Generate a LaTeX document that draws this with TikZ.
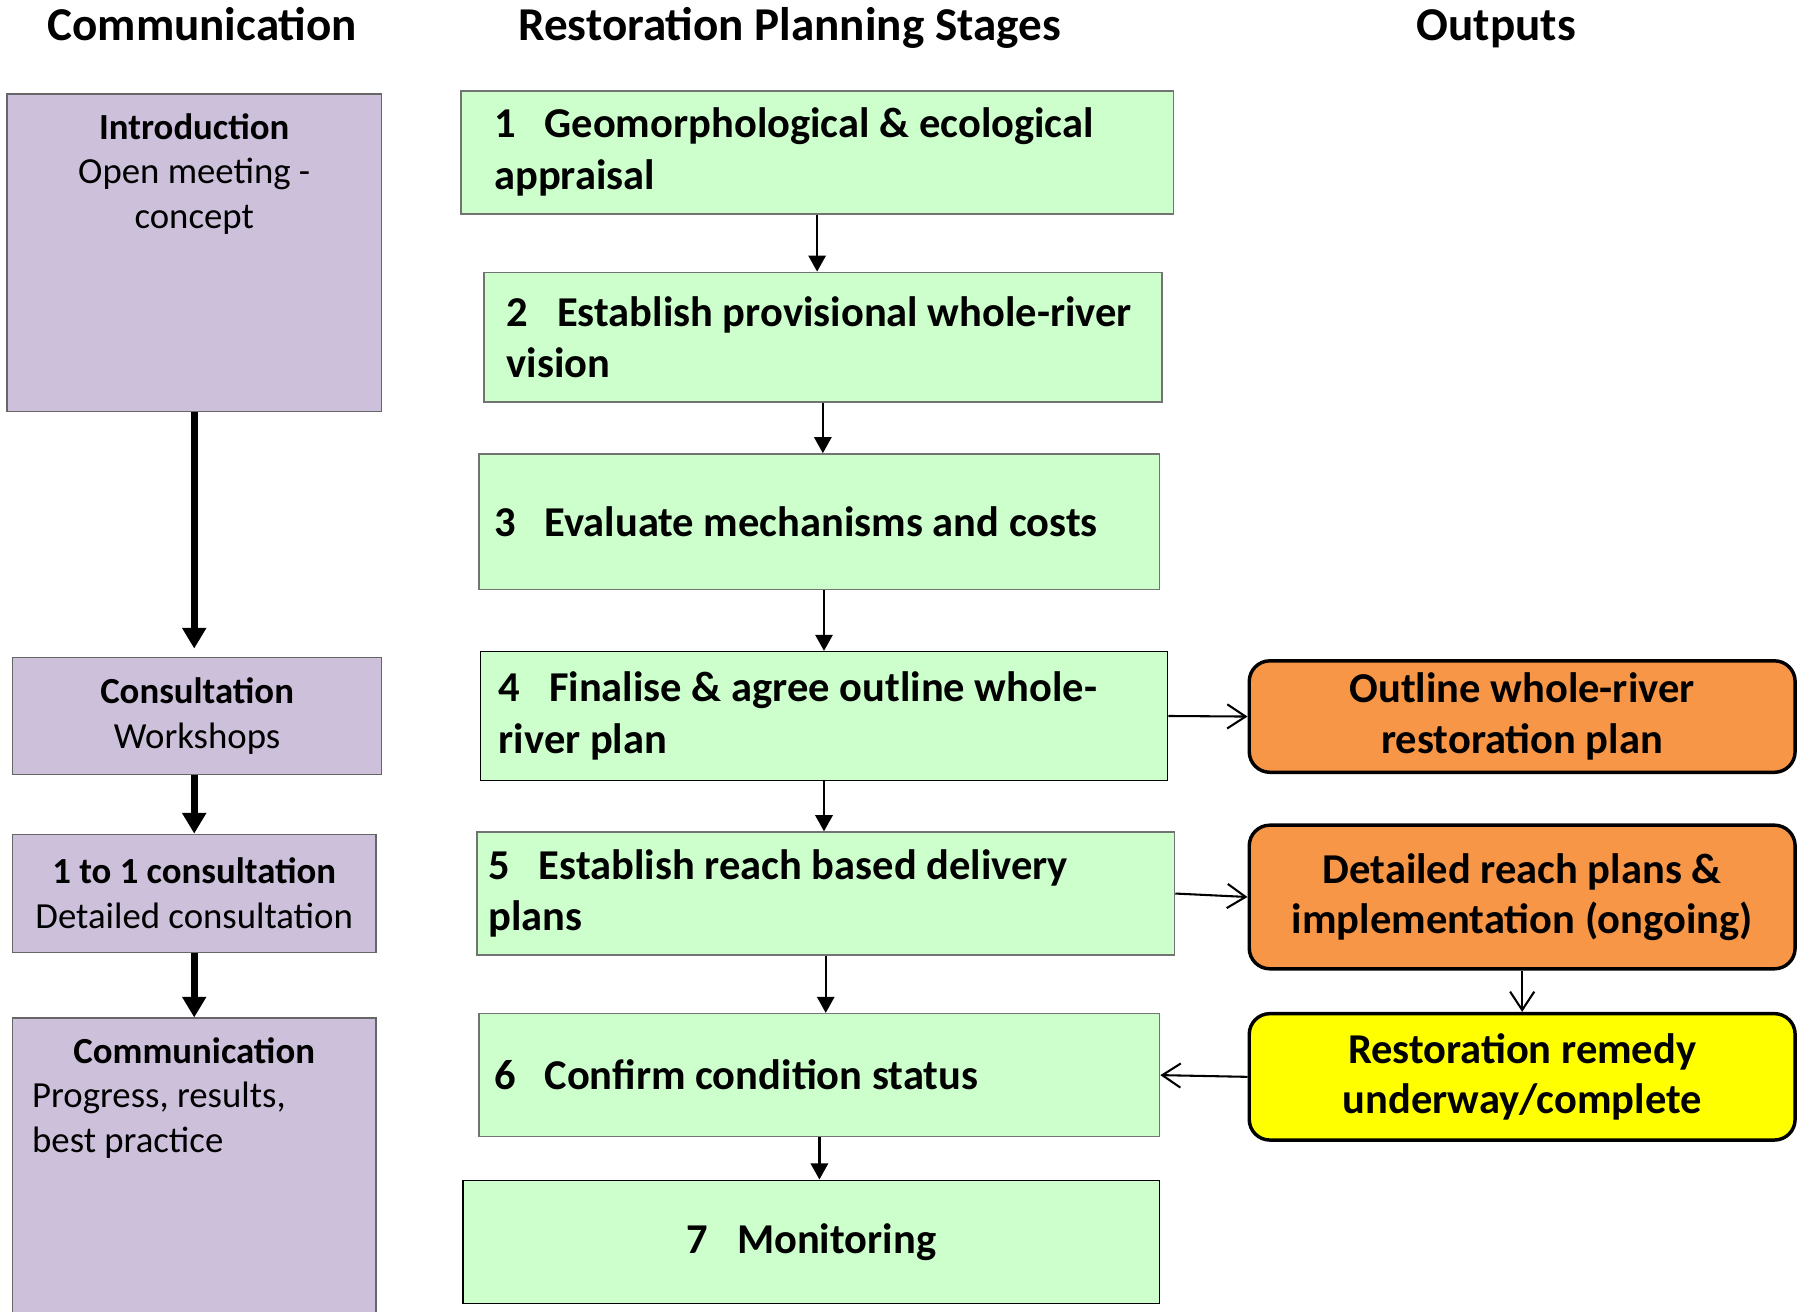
\documentclass[tikz,border=0pt]{standalone}
\usepackage{fontspec}
\setmainfont{Carlito}
\usetikzlibrary{arrows.meta,positioning}

\definecolor{commpurple}{HTML}{CCC0DA}
\definecolor{stagegreen}{HTML}{CCFFCC}
\definecolor{outorange}{HTML}{F79646}
\definecolor{outyellow}{HTML}{FFFF00}

\tikzstyle{heading} = [font=\fontsize{41}{49}\selectfont\bfseries, anchor=base]
\tikzstyle{commbox} = [rectangle, draw=black!60, line width=1.3pt, fill=commpurple]
\tikzstyle{commtext} = [font=\fontsize{32}{39}\selectfont, align=flush center, inner sep=0pt]
\tikzstyle{stagebox} = [rectangle, draw=black!55, line width=1.3pt, fill=stagegreen, font=\fontsize{37}{45}\selectfont\bfseries, align=flush left, inner ysep=0pt]
\tikzstyle{outbox} = [rectangle, rounded corners=18pt, draw=black, line width=3pt, minimum width=475pt, font=\fontsize{37}{44}\selectfont\bfseries, align=flush center]
\tikzstyle{commarrow} = [line width=6pt, -{Triangle[length=18pt,width=20pt]}]
\tikzstyle{stagearrow} = [line width=2pt, -{Triangle[length=14pt,width=15pt]}]
\tikzstyle{outarrow} = [line width=1.8pt, -{Straight Barb[length=16pt,width=21pt]}]

\begin{document}
\begin{tikzpicture}[x=1pt, y=-1pt]
\useasboundingbox (0,0) rectangle (1568,1141);

% column headings
\node (hcomm) [heading] at (176,35) {Communication};
\node (hstage) [heading] at (687,35) {Restoration Planning Stages};
\node (hout) [heading] at (1302,35) {Outputs};

% communication column
\node (intro) [commbox, minimum width=326pt, minimum height=276pt] at (169,220) {};
\node (introtext) [commtext, below=17pt of intro.north] {\textbf{Introduction}\\Open meeting -\\concept};
\node (consult) [commbox, commtext, minimum width=321pt, minimum height=102pt] at (171.5,623) {\textbf{Consultation}\\Workshops};
\node (onetoone) [commbox, commtext, minimum width=316pt, minimum height=103pt] at (169,777.5) {\textbf{1 to 1 consultation}\\Detailed consultation};
\node (commun) [commbox, minimum width=316pt, minimum height=280pt] at (169,1026) {};
\node (communtext) [commtext, text width=282pt, align=flush left, below=17pt of commun.north] {\makebox[\linewidth]{\textbf{Communication}}\\Progress, results,\\best practice};

% planning stages
\node (s1) [stagebox, minimum height=107pt, inner xsep=29pt, text width=562pt] at (711,132.5) {1~~~Geomorphological \& ecological\\appraisal};
\node (s2) [stagebox, minimum height=113pt, inner xsep=20pt, text width=550pt] at (716,293.5) {2~~~Establish provisional whole-river\\vision};
\node (s3) [stagebox, minimum height=118pt, inner xsep=13pt, text width=566pt] at (713,454) {3~~~Evaluate mechanisms and costs};
\node (s4) [stagebox, draw=black, minimum height=112pt, inner xsep=16pt, text width=566pt] at (717,623) {4~~~Finalise \& agree outline whole-\\river plan};
\node (s5) [stagebox, minimum height=107pt, inner xsep=10pt, text width=587pt] at (718.5,777.5) {5~~~Establish reach based delivery\\plans};
\node (s6) [stagebox, minimum height=107pt, inner xsep=13pt, text width=566pt] at (713,935.5) {6~~~Confirm condition status};
\node (s7) [stagebox, draw=black, align=flush center, minimum height=107pt, inner xsep=0pt, text width=606pt] at (706,1080.5) {7~~~Monitoring};

% outputs
\node (o1) [outbox, fill=outorange, minimum height=97pt] at (1324.5,623.5) {Outline whole-river\\restoration plan};
\node (o2) [outbox, fill=outorange, minimum height=125pt] at (1324.5,780.5) {Detailed reach plans \&\\implementation (ongoing)};
\node (o3) [outbox, fill=outyellow, minimum height=110pt] at (1324.5,937) {Restoration remedy\\underway/complete};

% communication arrows
\draw [commarrow, shorten >=7pt] (intro.south) -- (intro.south |- consult.north);
\draw [commarrow] (onetoone.north |- consult.south) -- (onetoone.north);
\draw [commarrow] (onetoone.south) -- (onetoone.south |- commun.north);

% stage arrows
\draw [stagearrow] (s1.south) -- (s1.south |- s2.north);
\draw [stagearrow] (s2.south) -- (s2.south |- s3.north);
\draw [stagearrow] (s4.north |- s3.south) -- (s4.north);
\draw [stagearrow] (s4.south) -- (s4.south |- s5.north);
\draw [stagearrow] (s5.south) -- (s5.south |- s6.north);
\draw [stagearrow] (s6.south) -- (s6.south |- s7.north);

% output arrows
\draw [outarrow] (s4.east) -- (o1.west);
\draw [outarrow] (s5.east) -- (o2.west);
\draw [outarrow] (o2.south) -- (o3.north);
\draw [outarrow] (o3.west) -- (s6.east);
\end{tikzpicture}
\end{document}
